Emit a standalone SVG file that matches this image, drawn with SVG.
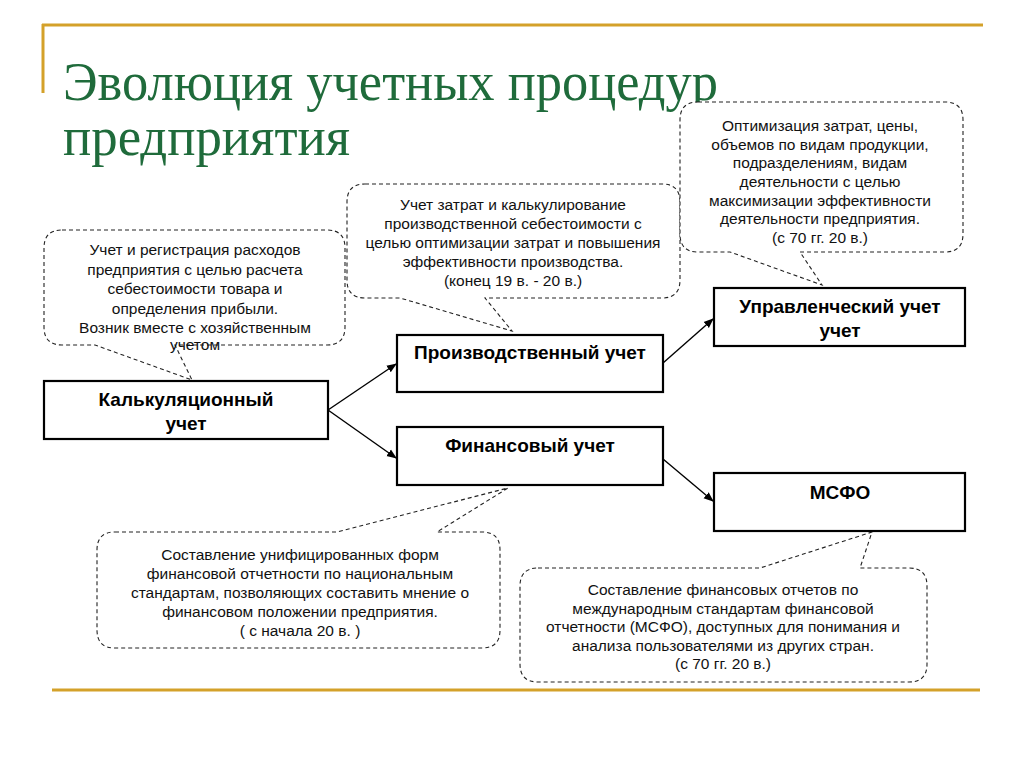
<svg xmlns="http://www.w3.org/2000/svg" width="1024" height="768" viewBox="0 0 1024 768">
<defs>
<style>
.gold{stroke:#D4A12A;stroke-width:3;fill:none}
.title{font-family:"Liberation Serif","Times New Roman",serif;font-size:55px;fill:#1F6B3B}
.box{fill:#fff;stroke:#000;stroke-width:2.2}
.bt{font-family:"Liberation Sans",Arial,sans-serif;font-weight:bold;font-size:19px;fill:#000;text-anchor:middle}
.call{fill:#fff;stroke:#222;stroke-width:1.1;stroke-dasharray:4 3}
.ct{font-family:"Liberation Sans",Arial,sans-serif;font-size:15.5px;fill:#111;text-anchor:middle}
.conn{stroke:#000;stroke-width:1.4;fill:none;marker-end:url(#ah)}
</style>
<marker id="ah" viewBox="0 0 10 10" refX="9" refY="5" markerWidth="10" markerHeight="10" markerUnits="userSpaceOnUse" orient="auto">
<path d="M0,1 L10,5 L0,9 Z" fill="#000"/>
</marker>
</defs>
<rect width="1024" height="768" fill="#fff"/>
<g id="frame">
<path class="gold" d="M42,25 H983 M43,24 V93"/>
<path class="gold" d="M52,690 H980"/>
</g>
<g id="title">
<text class="title" x="63" y="100" textLength="655" lengthAdjust="spacingAndGlyphs">Эволюция учетных процедур</text>
<text class="title" x="63" y="155" textLength="287" lengthAdjust="spacingAndGlyphs">предприятия</text>
</g>
<g id="connectors">
<path class="conn" d="M328,410 L396,364"/>
<path class="conn" d="M328,410 L396,458"/>
<path class="conn" d="M663,363 L713,319"/>
<path class="conn" d="M663,459 L713,501"/>
</g>
<g id="callout-kalk">
<path class="call" d="M62,230 H327 Q345,230 345,248 V327 Q345,345 327,345 H175 L192,380 L95,345 H62 Q44,345 44,327 V248 Q44,230 62,230 Z"/>
<text class="ct" x="195" y="255">Учет и регистрация расходов</text>
<text class="ct" x="195" y="275">предприятия с целью расчета</text>
<text class="ct" x="195" y="294">себестоимости товара и</text>
<text class="ct" x="195" y="314">определения прибыли.</text>
<text class="ct" x="195" y="333">Возник вместе с хозяйственным</text>
<text class="ct" x="195" y="350">учетом</text>
</g>
<g id="callout-proizv">
<path class="call" d="M365,184 H662 Q680,184 680,202 V280 Q680,298 662,298 H485 L512,331 L400,298 H365 Q347,298 347,280 V202 Q347,184 365,184 Z"/>
<text class="ct" x="513" y="210">Учет затрат и калькулирование</text>
<text class="ct" x="513" y="229">производственной себестоимости с</text>
<text class="ct" x="513" y="248">целью оптимизации затрат и повышения</text>
<text class="ct" x="513" y="267">эффективности производства.</text>
<text class="ct" x="513" y="286">(конец 19 в. - 20 в.)</text>
</g>
<g id="callout-upr">
<path class="call" d="M698,102 H945 Q963,102 963,120 V234 Q963,252 945,252 H800 L822,285 L730,252 H698 Q680,252 680,234 V120 Q680,102 698,102 Z"/>
<text class="ct" x="820" y="131">Оптимизация затрат, цены,</text>
<text class="ct" x="820" y="150">объемов по видам продукции,</text>
<text class="ct" x="820" y="168">подразделениям, видам</text>
<text class="ct" x="820" y="187">деятельности с целью</text>
<text class="ct" x="820" y="206">максимизации эффективности</text>
<text class="ct" x="820" y="224">деятельности предприятия.</text>
<text class="ct" x="820" y="243">(с 70 гг. 20 в.)</text>
</g>
<g id="callout-fin">
<path class="call" d="M115,532 H337 L508,488 L437,532 H482 Q500,532 500,550 V630 Q500,648 482,648 H115 Q97,648 97,630 V550 Q97,532 115,532 Z"/>
<text class="ct" x="300" y="560">Составление унифицированных форм</text>
<text class="ct" x="300" y="579">финансовой отчетности по национальным</text>
<text class="ct" x="300" y="598">стандартам, позволяющих составить мнение о</text>
<text class="ct" x="300" y="617">финансовом положении предприятия.</text>
<text class="ct" x="300" y="636">( с начала 20 в. )</text>
</g>
<g id="callout-msfo">
<path class="call" d="M538,568 H760 L872,532 L860,568 H909 Q927,568 927,586 V664 Q927,682 909,682 H538 Q520,682 520,664 V586 Q520,568 538,568 Z"/>
<text class="ct" x="723" y="595">Составление финансовых отчетов по</text>
<text class="ct" x="723" y="614">международным стандартам финансовой</text>
<text class="ct" x="723" y="632">отчетности (МСФО), доступных для понимания и</text>
<text class="ct" x="723" y="651">анализа пользователями из других стран.</text>
<text class="ct" x="723" y="669">(с 70 гг. 20 в.)</text>
</g>
<g id="node-kalk">
<rect class="box" x="44" y="381" width="284" height="58"/>
<text class="bt" x="186" y="406">Калькуляционный</text>
<text class="bt" x="186" y="430">учет</text>
</g>
<g id="node-proizv">
<rect class="box" x="397" y="335" width="266" height="57"/>
<text class="bt" x="530" y="359">Производственный учет</text>
</g>
<g id="node-fin">
<rect class="box" x="397" y="427" width="266" height="58"/>
<text class="bt" x="530" y="452">Финансовый учет</text>
</g>
<g id="node-upr">
<rect class="box" x="714" y="288" width="251" height="58"/>
<text class="bt" x="840" y="313">Управленческий учет</text>
<text class="bt" x="840" y="337">учет</text>
</g>
<g id="node-msfo">
<rect class="box" x="714" y="473" width="251" height="58"/>
<text class="bt" x="840" y="499">МСФО</text>
</g>
</svg>
